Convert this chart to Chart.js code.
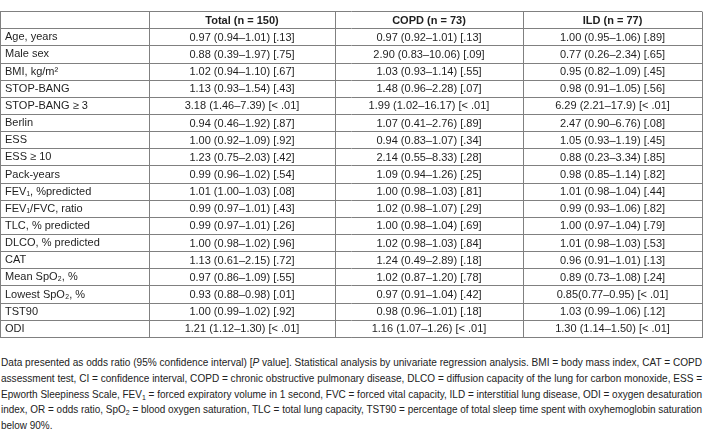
<!DOCTYPE html>
<html>
<head>
<meta charset="utf-8">
<script src="https://cdn.jsdelivr.net/npm/chart.js@4"></script>
<style>
  html, body { margin: 0; padding: 0; background: #fff; }
  #wrap { position: relative; width: 703px; height: 434px; overflow: hidden; }
  #tbl { position: absolute; left: 0; top: 0; }
  #notes { position: absolute; left: 1px; top: 355px; width: 701px;
           font-family: "Liberation Sans", Arial, sans-serif; font-size: 11.5px; color: #222; }
  #notes .ln { display: block; white-space: nowrap; height: 15.8px; line-height: 15.8px; transform-origin: 0 50%; width: max-content; }
  #notes sub { font-size: 8px; vertical-align: -2px; line-height: 0; }
</style>
</head>
<body>
<div id="wrap">
  <canvas id="tbl" width="703" height="349"></canvas>
  <div id="notes">
    <span class="ln">Data presented as odds ratio (95% confidence interval) [<i>P</i> value]. Statistical analysis by univariate regression analysis. BMI = body mass index, CAT = COPD</span>
    <span class="ln">assessment test, CI = confidence interval, COPD = chronic obstructive pulmonary disease, DLCO = diffusion capacity of the lung for carbon monoxide, ESS =</span>
    <span class="ln">Epworth Sleepiness Scale, FEV<sub>1</sub> = forced expiratory volume in 1 second, FVC = forced vital capacity, ILD = interstitial lung disease, ODI = oxygen desaturation</span>
    <span class="ln">index, OR = odds ratio, SpO<sub>2</sub> = blood oxygen saturation, TLC = total lung capacity, TST90 = percentage of total sleep time spent with oxyhemoglobin saturation</span>
    <span class="ln last">below 90%.</span>
  </div>
</div>
<script>
// table content
const columnTitles = ["", "Total (n = 150)", "COPD (n = 73)", "ILD (n = 77)"];

const rowLabels = [
  "Age, years", "Male sex", "BMI, kg/m\u00B2", "STOP-BANG", "STOP-BANG \u2265 3",
  "Berlin", "ESS", "ESS \u2265 10", "Pack-years", "FEV\u2081, %predicted",
  "FEV\u2081/FVC, ratio", "TLC, % predicted", "DLCO, % predicted", "CAT",
  "Mean SpO\u2082, %", "Lowest SpO\u2082, %", "TST90", "ODI"
];

const totalCells = [
  "0.97 (0.94–1.01) [.13]", "0.88 (0.39–1.97) [.75]", "1.02 (0.94–1.10) [.67]",
  "1.13 (0.93–1.54) [.43]", "3.18 (1.46–7.39) [< .01]", "0.94 (0.46–1.92) [.87]",
  "1.00 (0.92–1.09) [.92]", "1.23 (0.75–2.03) [.42]", "0.99 (0.96–1.02) [.54]",
  "1.01 (1.00–1.03) [.08]", "0.99 (0.97–1.01) [.43]", "0.99 (0.97–1.01) [.26]",
  "1.00 (0.98–1.02) [.96]", "1.13 (0.61–2.15) [.72]", "0.97 (0.86–1.09) [.55]",
  "0.93 (0.88–0.98) [.01]", "1.00 (0.99–1.02) [.92]", "1.21 (1.12–1.30) [< .01]"
];

const copdCells = [
  "0.97 (0.92–1.01) [.13]", "2.90 (0.83–10.06) [.09]", "1.03 (0.93–1.14) [.55]",
  "1.48 (0.96–2.28) [.07]", "1.99 (1.02–16.17) [< .01]", "1.07 (0.41–2.76) [.89]",
  "0.94 (0.83–1.07) [.34]", "2.14 (0.55–8.33) [.28]", "1.09 (0.94–1.26) [.25]",
  "1.00 (0.98–1.03) [.81]", "1.02 (0.98–1.07) [.29]", "1.00 (0.98–1.04) [.69]",
  "1.02 (0.98–1.03) [.84]", "1.24 (0.49–2.89) [.18]", "1.02 (0.87–1.20) [.78]",
  "0.97 (0.91–1.04) [.42]", "0.98 (0.96–1.01) [.18]", "1.16 (1.07–1.26) [< .01]"
];

const ildCells = [
  "1.00 (0.95–1.06) [.89]", "0.77 (0.26–2.34) [.65]", "0.95 (0.82–1.09) [.45]",
  "0.98 (0.91–1.05) [.56]", "6.29 (2.21–17.9) [< .01]", "2.47 (0.90–6.76) [.08]",
  "1.05 (0.93–1.19) [.45]", "0.88 (0.23–3.34) [.85]", "0.98 (0.85–1.14) [.82]",
  "1.01 (0.98–1.04) [.44]", "0.99 (0.93–1.06) [.82]", "1.00 (0.97–1.04) [.79]",
  "1.01 (0.98–1.03) [.53]", "0.96 (0.91–1.01) [.13]", "0.89 (0.73–1.08) [.24]",
  "0.85(0.77–0.95) [< .01]", "1.03 (0.99–1.06) [.12]", "1.30 (1.14–1.50) [< .01]"
];

// layout: column borders in pixels along the x scale
const colEdges = [0, 149, 335, 523, 702];
const FONT = '"Liberation Sans", Arial, sans-serif';
const LINE = '#808080';
const INK = '#1e1e1e';

const columns = [null, totalCells, copdCells, ildCells];

// draws header and value cells in the middle of each column/row band
const cellText = {
  id: 'cellText',
  afterDraw(chart) {
    const { ctx, scales: { x, y } } = chart;
    ctx.save();
    ctx.fillStyle = INK;
    ctx.textAlign = 'center';
    ctx.textBaseline = 'middle';
    for (let c = 1; c < columns.length; c++) {
      const cx = x.getPixelForValue((colEdges[c] + colEdges[c + 1]) / 2);
      ctx.font = 'bold 11px ' + FONT;
      ctx.fillText(columnTitles[c], cx, y.getPixelForValue(0) + 0.5);
      ctx.font = '11px ' + FONT;
      columns[c].forEach((txt, r) => {
        ctx.fillText(txt, cx, y.getPixelForValue(r + 1) + 0.5);
      });
    }
    ctx.restore();
  }
};

new Chart(document.getElementById('tbl'), {
  type: 'bar',
  data: { labels: [columnTitles[0], ...rowLabels], datasets: [] },
  options: {
    indexAxis: 'y',
    responsive: false,
    animation: false,
    layout: { padding: { top: 1, left: 0, right: 1, bottom: 1 } },
    plugins: { legend: { display: false }, tooltip: { enabled: false } },
    scales: {
      y: {
        type: 'category',
        offset: true,
        afterFit: s => { s.width = 0; },
        grid: { offset: true, color: LINE, drawTicks: false, tickLength: 0 },
        border: { color: LINE },
        ticks: { mirror: true, padding: 5, color: INK, font: { family: FONT, size: 11 } }
      },
      x: {
        type: 'linear',
        min: colEdges[0],
        max: colEdges[colEdges.length - 1],
        afterBuildTicks: s => { s.ticks = colEdges.map(v => ({ value: v })); },
        grid: { color: LINE, drawTicks: false },
        border: { color: LINE },
        ticks: { display: false }
      }
    }
  },
  plugins: [cellText]
});

// squeeze footnote lines into the table width (justified look)
const lines = document.querySelectorAll('#notes .ln');
let lastScale = 1;
lines.forEach(el => {
  const w = el.getBoundingClientRect().width;
  if (!el.classList.contains('last')) lastScale = 701 / w;
  el.style.transform = 'scaleX(' + lastScale + ')';
});
</script>
</body>
</html>
